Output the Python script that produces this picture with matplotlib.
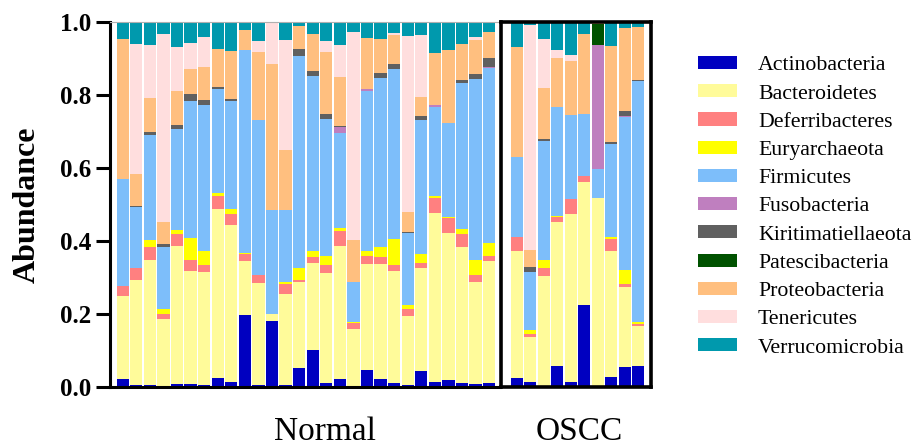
import numpy as np
import matplotlib.pyplot as plt
from matplotlib.patches import Patch

plt.rcParams['font.family'] = ['Liberation Serif', 'DejaVu Serif']

phyla = ["Actinobacteria", "Bacteroidetes", "Deferribacteres", "Euryarchaeota",
         "Firmicutes", "Fusobacteria", "Kiritimatiellaeota", "Patescibacteria",
         "Proteobacteria", "Tenericutes", "Verrucomicrobia"]
colors = ["#0000c0", "#fffb9a", "#ff8080", "#ffff00", "#7dbefa", "#bf7fbf",
          "#606060", "#005200", "#ffbf7f", "#ffdede", "#0099ad"]

# relative abundance per sample, Normal group (28 samples)
act_n = [.022, .004, .004, .001, .008, .008, .006, .025, .013, .197, .005, .179, .004, .052,
         .101, .011, .022, 0, .046, .020, .011, .006, .043, .013, .018, .011, .008, .011]
bac_n = [.227, .288, .343, .184, .378, .309, .309, .463, .431, .148, .278, .019, .251, .236,
         .237, .300, .364, .159, .289, .315, .307, .189, .283, .463, .403, .371, .278, .332]
def_n = [.027, .032, .035, .015, .031, .029, .019, .035, .030, .018, .023, .002, .025, .005,
         .016, .021, .040, .015, .022, .019, .016, .019, .012, .042, .040, .035, .020, .014]
eur_n = [0, .002, .021, .014, .011, .061, .037, .008, .012, .003, 0, 0, .008, .033,
         .017, .025, .009, .002, .014, .028, .070, .009, .025, .005, .004, .016, .041, .037]
fir_n = [.293, .167, .287, .170, .279, .376, .400, .285, .297, .555, .424, .283, .195, .580,
         .481, .375, .261, .110, .439, .463, .466, .198, .367, .244, .256, .400, .496, .479]
fus_n = [0, 0, 0, 0, 0, 0, 0, 0, 0, 0, 0, 0, 0, 0,
         0, 0, .014, 0, .005, 0, 0, 0, 0, .004, 0, 0, 0, .002]
kir_n = [0, .002, .008, .008, .009, .018, .014, .006, .006, 0, 0, .002, .002, .019,
         .012, .014, .004, 0, 0, .014, .014, .003, .011, 0, .002, .008, .013, .024]
pat_n = [0] * 28
pro_n = [.382, .087, .094, .060, .095, .069, .092, .104, .130, .056, .186, .399, .162, .062,
         .101, .170, .133, .115, .141, .092, .080, .055, .053, .143, .198, .098, .093, .072]
ten_n = [0, .357, .143, .513, .120, .072, .082, 0, 0, 0, .031, .113, .302, 0,
         0, .031, .090, .570, 0, .002, .006, .481, .169, 0, 0, 0, .010, 0]
ver_n = [.049, .061, .065, .035, .069, .058, .041, .074, .081, .023, .053, .003, .051, .013,
         .035, .053, .063, .029, .044, .047, .030, .040, .037, .086, .079, .061, .041, .029]

# OSCC group (10 samples)
act_o = [.023, .014, .002, .057, .014, .223, 0, .027, .054, .057]
bac_o = [.349, .123, .301, .394, .458, .338, .518, .344, .220, .109]
def_o = [.039, .007, .021, .014, .041, .015, 0, .034, .006, .006]
eur_o = [0, .010, .023, .003, 0, 0, 0, .005, .040, .005]
fir_o = [.218, .161, .326, .297, .230, .172, .078, .255, .419, .661]
fus_o = [0, 0, 0, 0, 0, 0, .339, 0, .002, 0]
kir_o = [0, .012, .005, .002, 0, 0, 0, .005, .015, .002]
pat_o = [0, 0, 0, 0, 0, 0, .058, 0, 0, 0]
pro_o = [.301, .047, .141, .132, .148, .217, .004, .263, .226, .145]
ten_o = [0, .616, .132, .023, .017, 0, 0, 0, 0, 0]
ver_o = [.070, .010, .049, .078, .092, .035, .003, .067, .018, .015]

normal = [act_n, bac_n, def_n, eur_n, fir_n, fus_n, kir_n, pat_n, pro_n, ten_n, ver_n]
oscc = [act_o, bac_o, def_o, eur_o, fir_o, fus_o, kir_o, pat_o, pro_o, ten_o, ver_o]


def stack(ax, series):
    x = np.arange(len(series[0]))
    bottom = np.zeros(len(x))
    for vals, c in zip(series, colors):
        vals = np.array(vals)
        ax.bar(x, vals, width=0.9, bottom=bottom, color=c, linewidth=0)
        bottom += vals
    return x


fig = plt.figure(figsize=(9.15, 4.48), dpi=100)
ax1 = fig.add_axes([110 / 915, 0.1368, 390 / 915, 0.815])
ax2 = fig.add_axes([501 / 915, 0.1368, 150 / 915, 0.815])

stack(ax1, normal)
stack(ax2, oscc)

ax1.set_xlim(-0.94, 27.8)
ax2.set_xlim(-1.17, 9.94)
for ax in (ax1, ax2):
    ax.set_ylim(0, 1.0)
    ax.set_xticks([])

ax1.set_yticks([0, 0.2, 0.4, 0.6, 0.8, 1.0])
ax1.set_yticklabels(["0.0", "0.2", "0.4", "0.6", "0.8", "1.0"], fontsize=18, fontweight='bold')
ax1.tick_params(axis='y', length=10, width=2.2, pad=3.5)
ax1.spines['left'].set_linewidth(2.2)
ax1.spines['bottom'].set_linewidth(2.2)
ax1.spines['right'].set_visible(False)
ax1.spines['top'].set_color('#b0b0b0')
ax1.spines['top'].set_linewidth(0.8)

ax2.set_yticks([])
for s in ax2.spines.values():
    s.set_linewidth(2.6)

fig.text(27 / 915, 0.544, "Abundance", fontsize=23, fontweight='bold',
         rotation=90, ha='center', va='center')
fig.text(325 / 915, 8 / 448, "Normal", fontsize=24, ha='center', va='baseline')
fig.text(579.5 / 915, 8 / 448, "OSCC", fontsize=24, ha='center', va='baseline')

handles = [Patch(facecolor=c) for c in colors]
fig.legend(handles, phyla, loc='upper left', bbox_to_anchor=(698 / 915, 0.875),
           frameon=False, fontsize=15.7, handlelength=1.78, handleheight=0.55,
           handletextpad=0.97, labelspacing=0.41, borderaxespad=0, borderpad=0)

fig.savefig("out.png", dpi=100)
